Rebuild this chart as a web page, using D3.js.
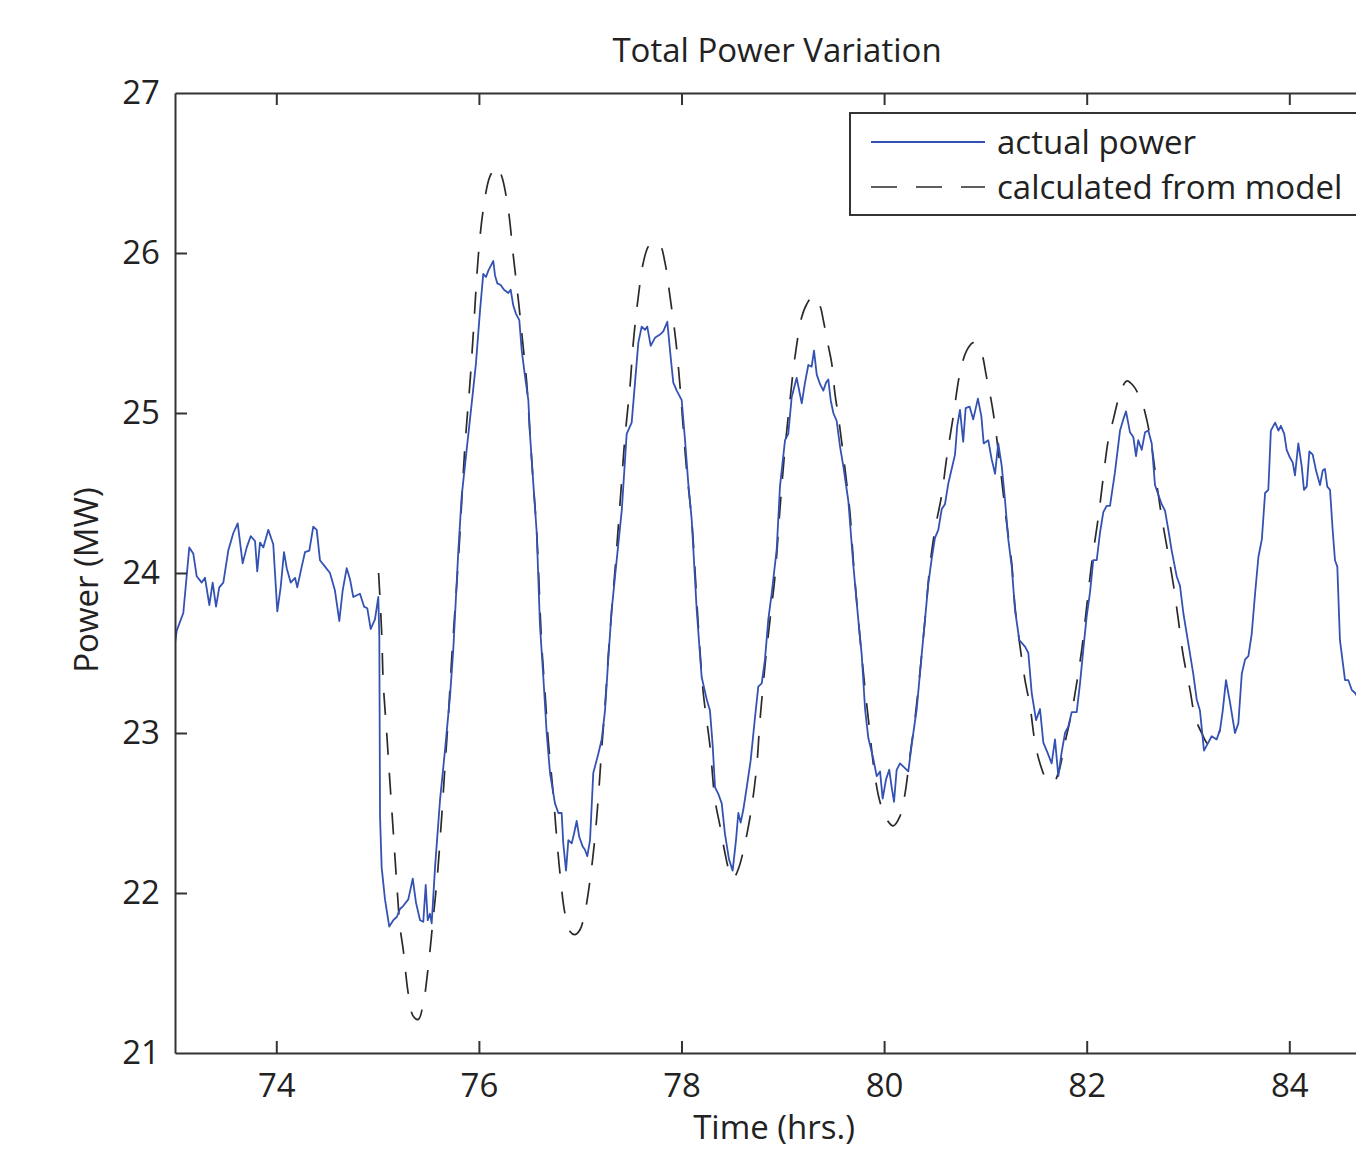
<!DOCTYPE html>
<html>
<head>
<meta charset="utf-8">
<script src="https://cdn.jsdelivr.net/npm/d3@7/dist/d3.min.js"></script>
<style>
  html, body { margin: 0; padding: 0; background: #fff; }
  svg { display: block; }
  text { font-family: "Open Sans", "Noto Sans", sans-serif; fill: #222; }
</style>
</head>
<body>
<svg id="chart" width="1356" height="1149"></svg>
<script>
// ---- data (hours, MW) ----
const title = "Total Power Variation";
const xLabel = "Time (hrs.)";
const yLabel = "Power (MW)";
const legendLabels = ["actual power", "calculated from model"];
const xTicks = [74, 76, 78, 80, 82, 84];
const yTicks = [21, 22, 23, 24, 25, 26, 27];

const actualTime = [
  73.000,73.017,73.082,73.141,73.181,73.214,73.264,73.296,73.339,73.372,73.405,73.437,73.477,73.526,73.576,73.619,73.668,73.708,73.747,73.790,
  73.812,73.839,73.872,73.921,73.970,74.010,74.043,74.076,74.103,74.142,74.185,74.207,74.251,74.283,74.326,74.365,74.399,74.431,74.481,74.530,
  74.579,74.622,74.655,74.695,74.728,74.760,74.826,74.866,74.898,74.932,74.974,75.007,75.017,75.024,75.040,75.073,75.115,75.155,75.189,75.221,
  75.254,75.303,75.347,75.379,75.419,75.451,75.475,75.495,75.517,75.534,75.567,75.616,75.665,75.715,75.747,75.797,75.830,75.879,75.929,75.971,
  76.011,76.043,76.070,76.093,76.126,76.142,76.159,76.182,76.215,76.248,76.290,76.314,76.340,76.366,76.399,76.423,76.455,76.488,76.504,76.537,
  76.571,76.603,76.636,76.669,76.702,76.751,76.784,76.817,76.833,76.860,76.883,76.916,76.939,76.965,76.991,77.025,77.047,77.070,77.097,77.129,
  77.179,77.212,77.245,77.277,77.311,77.344,77.410,77.459,77.508,77.541,77.574,77.607,77.640,77.662,77.696,77.738,77.788,77.820,77.860,77.893,
  77.919,77.953,78.002,78.035,78.067,78.101,78.150,78.199,78.249,78.281,78.308,78.331,78.363,78.397,78.429,78.469,78.505,78.538,78.561,78.584,
  78.610,78.644,78.683,78.726,78.758,78.792,78.824,78.857,78.890,78.940,78.972,79.022,79.054,79.088,79.137,79.187,79.219,79.252,79.285,79.308,
  79.335,79.368,79.400,79.427,79.449,79.473,79.499,79.532,79.565,79.597,79.647,79.696,79.745,79.779,79.812,79.844,79.893,79.927,79.960,79.986,
  80.019,80.051,80.075,80.098,80.124,80.157,80.206,80.239,80.273,80.322,80.371,80.404,80.436,80.470,80.502,80.535,80.569,80.601,80.634,80.667,
  80.700,80.722,80.749,80.781,80.805,80.844,80.880,80.926,80.960,80.983,81.028,81.062,81.095,81.127,81.161,81.193,81.226,81.260,81.292,81.335,
  81.391,81.424,81.457,81.500,81.539,81.572,81.611,81.654,81.687,81.720,81.753,81.786,81.818,81.852,81.901,81.934,81.966,82.000,82.033,82.065,
  82.099,82.131,82.164,82.197,82.230,82.279,82.329,82.361,82.388,82.427,82.460,82.487,82.509,82.543,82.576,82.608,82.642,82.674,82.740,82.773,
  82.806,82.839,82.888,82.921,82.954,83.003,83.052,83.086,83.118,83.158,83.200,83.234,83.283,83.316,83.343,83.375,83.415,83.464,83.497,83.531,
  83.564,83.596,83.629,83.662,83.695,83.729,83.761,83.793,83.818,83.860,83.893,83.917,83.950,83.974,84.000,84.034,84.056,84.089,84.122,84.145,
  84.172,84.198,84.231,84.264,84.303,84.330,84.352,84.375,84.402,84.428,84.451,84.474,84.500,84.550,84.583,84.616,84.649,84.700
];
const actualPower = [
  23.56,23.64,23.75,24.16,24.12,23.98,23.94,23.97,23.80,23.94,23.79,23.91,23.94,24.14,24.25,24.31,24.06,24.16,24.23,24.20,
  24.01,24.19,24.16,24.27,24.18,23.76,23.91,24.13,24.03,23.94,23.97,23.91,24.04,24.13,24.14,24.29,24.27,24.08,24.04,24.00,
  23.89,23.70,23.89,24.03,23.96,23.85,23.87,23.79,23.78,23.65,23.71,23.85,23.60,22.48,22.16,21.96,21.79,21.83,21.85,21.90,
  21.92,21.96,22.09,21.94,21.83,21.82,22.05,21.83,21.87,21.81,22.16,22.58,22.89,23.23,23.52,24.14,24.48,24.77,25.06,25.31,
  25.64,25.87,25.85,25.89,25.93,25.95,25.86,25.81,25.80,25.77,25.75,25.77,25.67,25.62,25.58,25.39,25.23,25.08,24.87,24.56,
  24.25,23.67,23.35,23.00,22.75,22.56,22.50,22.50,22.31,22.14,22.33,22.31,22.37,22.45,22.35,22.29,22.27,22.23,22.33,22.75,
  22.87,22.96,23.14,23.46,23.77,23.98,24.39,24.87,24.94,25.19,25.44,25.54,25.52,25.54,25.42,25.47,25.49,25.51,25.57,25.35,
  25.19,25.14,25.08,24.83,24.56,24.33,23.77,23.35,23.21,23.14,22.92,22.66,22.62,22.56,22.37,22.21,22.14,22.33,22.50,22.44,
  22.52,22.66,22.83,23.10,23.29,23.31,23.46,23.71,23.87,24.15,24.54,24.83,24.87,25.10,25.22,25.06,25.19,25.30,25.29,25.39,
  25.24,25.18,25.14,25.19,25.21,25.08,25.00,24.95,24.79,24.67,24.45,24.05,23.71,23.49,23.15,22.97,22.84,22.73,22.76,22.59,
  22.71,22.77,22.66,22.57,22.77,22.81,22.78,22.76,22.93,23.15,23.49,23.71,23.93,24.09,24.22,24.27,24.40,24.43,24.56,24.65,
  24.74,24.92,25.02,24.82,25.03,25.04,24.96,25.09,24.98,24.81,24.83,24.71,24.62,24.81,24.67,24.46,24.21,24.04,23.77,23.58,
  23.54,23.50,23.25,23.08,23.15,22.94,22.88,22.81,22.96,22.73,22.88,23.00,23.04,23.13,23.13,23.31,23.52,23.73,23.88,24.08,
  24.08,24.25,24.38,24.42,24.42,24.63,24.89,24.96,25.01,24.88,24.85,24.73,24.83,24.77,24.88,24.89,24.81,24.55,24.43,24.39,
  24.27,24.14,23.98,23.92,23.75,23.56,23.37,23.21,23.14,22.89,22.94,22.98,22.96,23.02,23.14,23.33,23.19,23.00,23.06,23.37,
  23.46,23.48,23.62,23.87,24.10,24.21,24.50,24.52,24.89,24.94,24.89,24.92,24.87,24.77,24.73,24.69,24.61,24.81,24.67,24.52,
  24.54,24.76,24.74,24.64,24.55,24.64,24.65,24.54,24.52,24.27,24.08,24.04,23.58,23.33,23.33,23.27,23.25,23.20
];

const modelTime = [
  75.010,75.040,75.056,75.090,75.122,75.155,75.189,75.221,75.254,75.303,75.352,75.402,75.451,75.500,75.550,75.589,75.633,75.665,75.698,75.731,
  75.764,75.797,75.813,75.863,75.912,75.945,75.994,76.043,76.110,76.176,76.225,76.290,76.340,76.389,76.423,76.472,76.504,76.537,76.571,76.620,
  76.653,76.685,76.734,76.761,76.801,76.850,76.899,76.949,76.998,77.047,77.097,77.146,77.179,77.212,77.245,77.277,77.311,77.344,77.410,77.442,
  77.492,77.524,77.574,77.623,77.672,77.728,77.788,77.837,77.886,77.946,77.985,78.051,78.101,78.166,78.215,78.281,78.331,78.380,78.429,78.479,
  78.511,78.561,78.627,78.693,78.742,78.775,78.824,78.874,78.923,78.972,79.022,79.071,79.120,79.187,79.236,79.301,79.367,79.400,79.449,79.483,
  79.515,79.548,79.591,79.631,79.664,79.696,79.745,79.795,79.844,79.910,79.959,80.026,80.091,80.157,80.206,80.256,80.305,80.354,80.404,80.453,
  80.502,80.569,80.618,80.683,80.749,80.815,80.881,80.947,81.013,81.078,81.161,81.210,81.260,81.292,81.342,81.391,81.440,81.490,81.539,81.605,
  81.670,81.720,81.786,81.852,81.901,81.951,82.000,82.049,82.115,82.164,82.213,82.263,82.329,82.395,82.460,82.543,82.592,82.642,82.691,82.740,
  82.790,82.855,82.904,82.954,83.020,83.069,83.135,83.201,83.267,83.316
];
const modelPower = [
  24.00,23.63,23.31,23.00,22.69,22.38,22.06,21.79,21.64,21.37,21.23,21.21,21.31,21.54,21.85,22.10,22.48,22.79,23.10,23.46,
  23.77,24.08,24.25,24.80,25.19,25.50,25.98,26.27,26.48,26.54,26.48,26.27,25.98,25.71,25.50,25.19,24.87,24.56,24.25,23.55,
  23.25,22.95,22.62,22.40,22.12,21.87,21.76,21.74,21.77,21.88,22.08,22.35,22.60,22.90,23.17,23.48,23.77,24.02,24.58,24.85,
  25.17,25.44,25.73,25.94,26.04,26.07,26.05,25.94,25.73,25.44,25.17,24.64,24.33,23.67,23.25,22.92,22.58,22.42,22.25,22.12,
  22.09,22.15,22.31,22.54,22.79,23.08,23.42,23.71,23.98,24.40,24.78,25.08,25.35,25.60,25.68,25.73,25.67,25.58,25.42,25.31,
  25.12,24.98,24.77,24.56,24.37,24.08,23.71,23.38,23.09,22.73,22.57,22.46,22.42,22.48,22.62,22.86,23.09,23.38,23.71,24.05,
  24.27,24.49,24.72,24.98,25.25,25.39,25.44,25.40,25.22,25.00,24.58,24.31,24.06,23.79,23.54,23.33,23.17,22.94,22.81,22.71,
  22.69,22.75,22.94,23.13,23.31,23.52,23.79,24.06,24.35,24.60,24.83,24.96,25.12,25.20,25.17,25.07,24.96,24.79,24.56,24.35,
  24.17,23.93,23.71,23.48,23.27,23.10,23.00,22.93,22.94,23.02
];

const xDomain = [73, 85];
const yDomain = [21, 27];

// ---- layout ----
const svg = d3.select("#chart");
const mLeft = 175, mTop = 93, mBottom = 1053;
const mRight = 175 + (85 - 73) * 101.3;

const x = d3.scaleLinear().domain(xDomain).range([mLeft, mRight]);
const y = d3.scaleLinear().domain(yDomain).range([mBottom, mTop]);

const axisColor = "#333";
const tickLen = 12;
const fontSize = "33px";

svg.append("defs").append("clipPath").attr("id", "plotclip")
  .append("rect").attr("x", mLeft).attr("y", mTop).attr("width", mRight - mLeft).attr("height", mBottom - mTop);

// data lines
const lineGen = d3.line().x(d => x(d[0])).y(d => y(d[1]));
const modelLine = d3.line().x(d => x(d[0])).y(d => y(d[1])).curve(d3.curveCatmullRom.alpha(0.5));

const plot = svg.append("g").attr("clip-path", "url(#plotclip)");
plot.append("path")
  .datum(modelTime.map((t, i) => [t, modelPower[i]]))
  .attr("d", modelLine)
  .attr("fill", "none")
  .attr("stroke", "#2a2a2a")
  .attr("stroke-width", 1.7)
  .attr("stroke-dasharray", "22,18");

plot.append("path")
  .datum(actualTime.map((t, i) => [t, actualPower[i]]))
  .attr("d", lineGen)
  .attr("fill", "none")
  .attr("stroke", "#3452b4")
  .attr("stroke-width", 1.8)
  .attr("stroke-linejoin", "round");

// axes
const gx = svg.append("g").attr("transform", `translate(0,${mBottom})`)
  .call(d3.axisBottom(x).tickValues(xTicks).tickSizeInner(-tickLen).tickSizeOuter(0).tickPadding(21));
const gxTop = svg.append("g").attr("transform", `translate(0,${mTop})`)
  .call(d3.axisTop(x).tickValues(xTicks).tickSizeInner(-tickLen).tickSizeOuter(0).tickFormat(""));
const gy = svg.append("g").attr("transform", `translate(${mLeft},0)`)
  .call(d3.axisLeft(y).tickValues(yTicks).tickFormat(d3.format("d")).tickSizeInner(-tickLen).tickSizeOuter(0).tickPadding(15));

[gx, gxTop, gy].forEach(g => {
  g.select(".domain").attr("stroke", axisColor).attr("stroke-width", 2);
  g.selectAll(".tick line").attr("stroke", axisColor).attr("stroke-width", 2);
  g.selectAll(".tick text").style("font-family", '"Open Sans", sans-serif')
    .style("font-size", fontSize).attr("fill", "#222");
});
gy.selectAll(".tick").filter(d => d === 21 || d === 27).select("line").remove();

// titles
svg.append("text").attr("x", 777).attr("y", 62).attr("text-anchor", "middle")
  .style("font-size", fontSize).text(title);
svg.append("text").attr("x", 774).attr("y", 1139).attr("text-anchor", "middle")
  .style("font-size", fontSize).text(xLabel);
svg.append("text").attr("transform", `translate(98,580) rotate(-90)`).attr("text-anchor", "middle")
  .style("font-size", fontSize).text(yLabel);

// legend
const lg = svg.append("g");
lg.append("rect").attr("x", 850).attr("y", 113).attr("width", 560).attr("height", 102)
  .attr("fill", "#fff").attr("stroke", axisColor).attr("stroke-width", 2);
lg.append("line").attr("x1", 871).attr("x2", 985).attr("y1", 142).attr("y2", 142)
  .attr("stroke", "#3452b4").attr("stroke-width", 1.8);
lg.append("line").attr("x1", 871).attr("x2", 985).attr("y1", 187).attr("y2", 187)
  .attr("stroke", "#2a2a2a").attr("stroke-width", 1.7).attr("stroke-dasharray", "26,19");
lg.append("text").attr("x", 997).attr("y", 154).style("font-size", fontSize).text(legendLabels[0]);
lg.append("text").attr("x", 997).attr("y", 199).style("font-size", fontSize).text(legendLabels[1]);
</script>
</body>
</html>
